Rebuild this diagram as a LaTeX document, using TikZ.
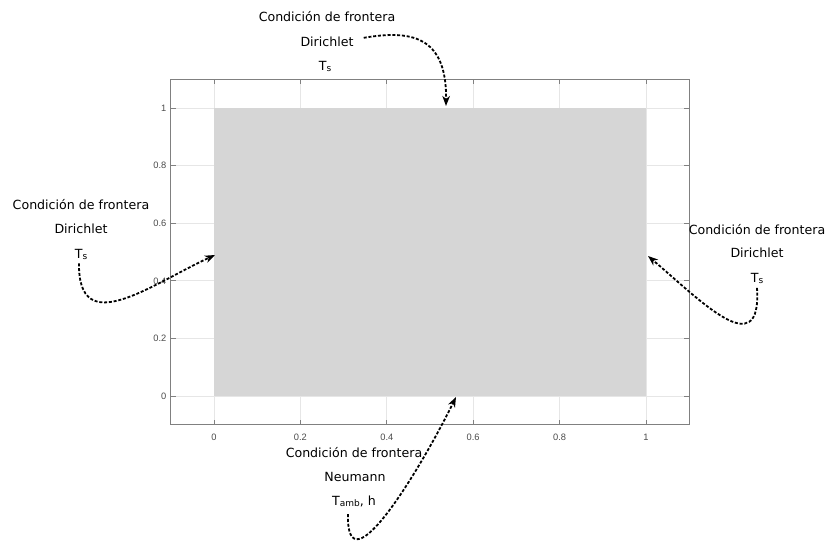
\documentclass[tikz,border=0pt]{standalone}
\usepackage{fontspec}
\setmainfont{DejaVu Sans}
\newfontfamily\tickfont{Liberation Sans}
\usetikzlibrary{arrows.meta}
\definecolor{patchc}{HTML}{D6D6D6}
\definecolor{gridc}{HTML}{E6E6E6}
\definecolor{axisc}{HTML}{808080}
\definecolor{tickc}{HTML}{4A4A4A}
\newcommand{\subsm}[1]{\raisebox{-1pt}{\fontsize{9}{9}\selectfont #1}}
\begin{document}
\begin{tikzpicture}[x=1pt,y=-1pt,
  lbl/.style={font=\fontsize{12.6}{15}\selectfont, inner sep=0pt, anchor=base},
  ticklbl/.style={font=\tickfont\fontsize{9.3}{10}\selectfont, text=tickc, inner sep=0pt},
  gridline/.style={gridc, line width=0.8pt},
  bcarrow/.style={line width=1.8pt, dash pattern=on 3pt off 1.8pt,
    -{Stealth[length=10pt,width=7.5pt,inset=3pt]}}
]
\useasboundingbox (0,0) rectangle (828,544);
% grid
\foreach \i in {0,...,5} {
  \pgfmathsetmacro\xx{214+86.4*\i}
  \draw[gridline] (\xx,79.2) -- (\xx,424.8);
  \pgfmathsetmacro\yy{396-57.6*\i}
  \draw[gridline] (170.8,\yy) -- (689.2,\yy);
}
% domain patch
\fill[patchc] (214,108) rectangle (646,396);
% axes box
\draw[axisc, line width=1pt] (170.8,79.2) rectangle (689.2,424.8);
% ticks and tick labels
\foreach \i/\t in {0/0,1/0.2,2/0.4,3/0.6,4/0.8,5/1} {
  \pgfmathsetmacro\xx{214+86.4*\i}
  \pgfmathsetmacro\yy{396-57.6*\i}
  \draw[axisc, line width=0.8pt] (\xx,424.8) -- (\xx,419.8);
  \draw[axisc, line width=0.8pt] (\xx,79.2) -- (\xx,84.2);
  \draw[axisc, line width=0.8pt] (170.8,\yy) -- (175.8,\yy);
  \draw[axisc, line width=0.8pt] (689.2,\yy) -- (684.2,\yy);
  \node[ticklbl] (xl\i) at (\xx,437) {\t};
  \node[ticklbl, anchor=east] (yl\i) at (166.5,\yy) {\t};
}
% target points on the boundary
\coordinate (topT) at (446,106);
\coordinate (leftT) at (215,255);
\coordinate (rightT) at (648,256);
\coordinate (botT) at (456,397);
% top label
\node[lbl] (tC) at (327,21.5) {Condición de frontera};
\node[lbl] (tD) at (327,46.5) {Dirichlet};
\node[lbl] (tT) at (325,70) {T\subsm{s}};
% left label
\node[lbl] (lC) at (81,209.5) {Condición de frontera};
\node[lbl] (lD) at (81,233.5) {Dirichlet};
\node[lbl] (lT) at (81,258) {T\subsm{s}};
% right label
\node[lbl] (rC) at (757,234.5) {Condición de frontera};
\node[lbl] (rD) at (757,257.5) {Dirichlet};
\node[lbl] (rT) at (757,282.5) {T\subsm{s}};
% bottom label
\node[lbl] (bC) at (354,457.5) {Condición de frontera};
\node[lbl] (bN) at (355,481.5) {Neumann};
\node[lbl] (bT) at (354,505.5) {T\subsm{amb}, h};
% connectors
\draw[bcarrow] ([xshift=10pt,yshift=4pt]tD.east) .. controls (410,30) and (447,35) .. (topT);
\draw[bcarrow] ([xshift=-2pt,yshift=-4pt]lT.south) .. controls (78,340) and (150,285) .. (leftT);
\draw[bcarrow] ([yshift=-4pt]rT.south) .. controls (762,365) and (700,300) .. (rightT);
\draw[bcarrow] ([xshift=-6pt,yshift=-7pt]bT.south) .. controls (346,592) and (420,470) .. (botT);
\end{tikzpicture}
\end{document}
